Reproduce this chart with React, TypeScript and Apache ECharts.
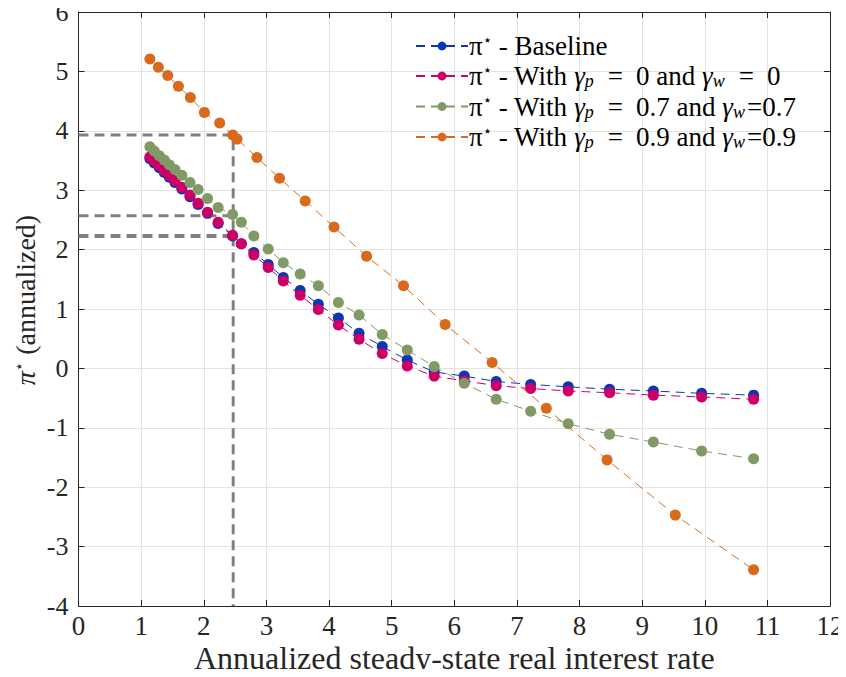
import React, { useEffect, useRef } from "react";
import * as echarts from "echarts";

// ---------- data ----------
const xShared = [1.14, 1.21, 1.29, 1.37, 1.45, 1.54, 1.65, 1.78, 1.91, 2.06, 2.23, 2.46, 2.6, 2.8, 3.03, 3.27, 3.54, 3.83, 4.15, 4.48, 4.85, 5.25, 5.68, 6.16, 6.67, 7.22, 7.82, 8.48, 9.18, 9.95, 10.78];
const yBaseline = [3.53, 3.46, 3.38, 3.3, 3.22, 3.13, 3.02, 2.89, 2.76, 2.61, 2.44, 2.23, 2.1, 1.95, 1.75, 1.53, 1.31, 1.08, 0.85, 0.59, 0.37, 0.14, -0.06, -0.13, -0.22, -0.27, -0.31, -0.35, -0.38, -0.42, -0.45];
const yGamma0 = [3.56, 3.49, 3.41, 3.33, 3.25, 3.16, 3.05, 2.92, 2.78, 2.63, 2.46, 2.24, 2.1, 1.91, 1.7, 1.47, 1.23, 0.99, 0.73, 0.49, 0.25, 0.04, -0.13, -0.21, -0.29, -0.34, -0.38, -0.41, -0.45, -0.48, -0.52];
const yGamma07 = [3.73, 3.66, 3.58, 3.51, 3.43, 3.35, 3.25, 3.13, 3.01, 2.86, 2.71, 2.59, 2.46, 2.23, 2.01, 1.78, 1.59, 1.39, 1.11, 0.9, 0.57, 0.31, 0.03, -0.25, -0.52, -0.72, -0.93, -1.11, -1.24, -1.39, -1.52];
const xGamma09 = [1.14, 1.275, 1.425, 1.595, 1.786, 2.01, 2.255, 2.463, 2.532, 2.85, 3.21, 3.62, 4.08, 4.6, 5.19, 5.855, 6.605, 7.47, 8.44, 9.53, 10.78];
const yGamma09 = [5.21, 5.07, 4.93, 4.75, 4.56, 4.31, 4.13, 3.93, 3.86, 3.55, 3.2, 2.82, 2.38, 1.89, 1.39, 0.74, 0.1, -0.67, -1.54, -2.47, -3.39];

// calibrated reference point (dashed guides)
const guideX = 2.47;
const guideY = [3.93, 2.57, 2.23];

const seriesNames = ["baseline", "g0", "g07", "g09"];
const seriesColors = ["#0B36B4", "#CC0066", "#7F9A65", "#D96A1D"];

const xTicks = { min: 0, max: 12, interval: 1 };
const yTicks = { min: -4, max: 6, interval: 1 };

const pair = (xs: number[], ys: number[]) => xs.map((x, i) => [x, ys[i]]);

const SERIF = "Liberation Serif";
const SYM = "DejaVu Sans";

export default function App() {
  const ref = useRef<HTMLDivElement>(null);
  useEffect(() => {
    if (!ref.current) return;
    const chart = echarts.init(ref.current, null, { renderer: "svg" });

    const legendText: Record<string, string> = {
      baseline: "{r|π}{sup|⋆}{r| - Baseline}",
      g0: "{r|π}{sup|⋆}{r| - With }{i|γ}{sub|p}{eq|=}{r|0 and }{i|γ}{sub|w}{eq|=}{r|0}",
      g07: "{r|π}{sup|⋆}{r| - With }{i|γ}{sub|p}{eq|=}{r|0.7 and }{i|γ}{sub|w}{r|=0.7}",
      g09: "{r|π}{sup|⋆}{r| - With }{i|γ}{sub|p}{eq|=}{r|0.9 and }{i|γ}{sub|w}{r|=0.9}",
    };

    const dataSets = [
      pair(xShared, yBaseline),
      pair(xShared, yGamma0),
      pair(xShared, yGamma07),
      pair(xGamma09, yGamma09),
    ];

    const guideStyle = { color: "#808080", width: 3, type: [10, 6] as any };
    const guides = [
      [[0, guideY[0]], [guideX, guideY[0]], [guideX, yTicks.min]],
      [[0, guideY[1]], [guideX, guideY[1]]],
      [[0, guideY[2]], [guideX, guideY[2]]],
    ].map((d, i) => ({
      type: "line",
      name: "guide" + i,
      data: d,
      showSymbol: false,
      symbol: "none",
      silent: true,
      z: 1,
      lineStyle: { ...guideStyle, width: i === 2 ? 4 : 3 },
    }));

    const dataSeries = dataSets.map((d, i) => ({
      type: "line",
      name: seriesNames[i],
      data: d,
      symbol: "circle",
      symbolSize: 11,
      z: 3 + i,
      itemStyle: { color: seriesColors[i] },
      lineStyle: { color: seriesColors[i], width: 1, type: [9, 6] as any },
    }));

    const axisColor = "#262626";
    const LF = 27;
    const textRich = {
      r: { fontFamily: SERIF, fontSize: LF, color: "#000" },
      i: { fontFamily: SERIF, fontSize: LF, fontStyle: "italic", color: "#000" },
      eq: { fontFamily: SERIF, fontSize: LF, color: "#000", padding: [0, 13, 0, 12] },
      sup: { fontFamily: SYM, fontSize: 15, color: "#000", padding: [0, 0, 13, 0] },
      sub: { fontFamily: SERIF, fontSize: 18, fontStyle: "italic", color: "#000", padding: [10, 2, 0, 0] },
    };

    chart.setOption({
      animation: false,
      backgroundColor: "#fff",
      textStyle: { fontFamily: SERIF },
      grid: { left: 78.5, right: 16, top: 12, bottom: 71, containLabel: false, outerBoundsMode: "none" },
      legend: {
        data: seriesNames,
        orient: "vertical",
        left: 410,
        top: 27,
        itemWidth: 52,
        itemHeight: 11,
        itemGap: 2.5,
        formatter: (n: string) => legendText[n],
        textStyle: { rich: textRich, fontFamily: SERIF, fontSize: LF, color: "#000", padding: [0, 0, 0, -4] },
      },
      xAxis: [
        {
          type: "value",
          min: xTicks.min,
          max: xTicks.max,
          interval: xTicks.interval,
          name: "Annualized steady-state real interest rate",
          nameLocation: "middle",
          nameGap: 36,
          nameMoveOverlap: false,
          nameTextStyle: { fontFamily: SERIF, fontSize: 32, color: axisColor },
          axisLine: { show: true, onZero: false, lineStyle: { color: axisColor, width: 1 } },
          axisTick: { show: true, inside: true, length: 6, lineStyle: { color: axisColor } },
          axisLabel: { fontFamily: SERIF, fontSize: 27, lineHeight: 22, color: axisColor, margin: 9 },
          splitLine: { show: true, lineStyle: { color: "#e3e3e3", width: 1 } },
        },
        {
          type: "value",
          position: "top",
          min: xTicks.min,
          max: xTicks.max,
          interval: xTicks.interval,
          axisLine: { show: true, onZero: false, lineStyle: { color: axisColor, width: 1 } },
          axisTick: { show: true, inside: true, length: 6, lineStyle: { color: axisColor } },
          axisLabel: { show: false },
          splitLine: { show: false },
        },
      ],
      yAxis: [
        {
          type: "value",
          min: yTicks.min,
          max: yTicks.max,
          interval: yTicks.interval,
          name: "{i|π}{sup|⋆}{r| (annualized)}",
          nameLocation: "middle",
          nameGap: 39,
          nameRotate: 90,
          nameMoveOverlap: false,
          nameTextStyle: {
            padding: [0, 0, 0, 18],
            rich: {
              r: { fontFamily: SERIF, fontSize: 28, color: axisColor },
              i: { fontFamily: SERIF, fontSize: 28, fontStyle: "italic", color: axisColor },
              sup: { fontFamily: SYM, fontSize: 15, color: axisColor, padding: [0, 0, 13, 0] },
            },
          },
          axisLine: { show: true, onZero: false, lineStyle: { color: axisColor, width: 1 } },
          axisTick: { show: true, inside: true, length: 6, lineStyle: { color: axisColor } },
          axisLabel: { fontFamily: SERIF, fontSize: 26, lineHeight: 20, color: axisColor, margin: 10 },
          splitLine: { show: true, lineStyle: { color: "#e3e3e3", width: 1 } },
        },
        {
          type: "value",
          position: "right",
          min: yTicks.min,
          max: yTicks.max,
          interval: yTicks.interval,
          axisLine: { show: true, onZero: false, lineStyle: { color: axisColor, width: 1 } },
          axisTick: { show: true, inside: true, length: 6, lineStyle: { color: axisColor } },
          axisLabel: { show: false },
          splitLine: { show: false },
        },
      ],
      series: [...guides, ...dataSeries],
    });
    return () => chart.dispose();
  }, []);
  return <div ref={ref} style={{ width: 846, height: 677, margin: -8 }} />;
}
